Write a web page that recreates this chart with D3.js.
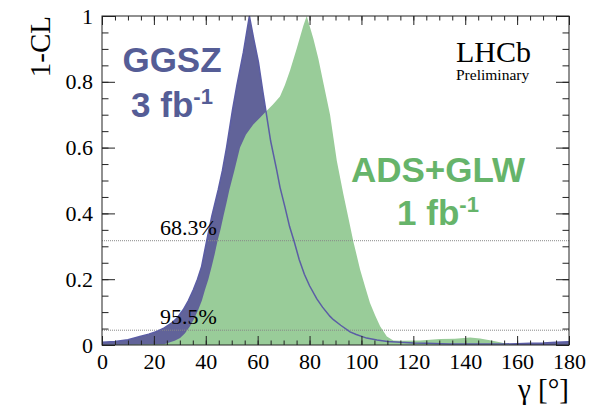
<!DOCTYPE html>
<html>
  <head>
    <script src="https://d3js.org/d3.v7.min.js"></script>
    <style>
      body {margin: 0; background: #fff;}
      .tick text {font-family: "Liberation Serif", serif; font-size: 22px; fill: #000;}
      .tick line {stroke: #222;}
    </style>
  </head>
  <body>
    <svg width="596" height="409"></svg>
  </body>
  <script>
    // GGSZ 3 fb-1 scan
    var gammaGGSZ = [0, 5, 10, 14.6, 18, 21.1, 24, 26.9, 29, 31.3, 33.3, 35.2, 36.8, 38.4, 40.3, 42.3, 44.8, 46.4, 48, 50.3, 52, 54.5, 56.8,
                     58.5, 60.3, 62, 63.2, 65, 67.3, 68.6, 70.5, 72.3, 74.1, 76, 78, 80, 82.8, 85, 87.9, 89.2, 92, 95.6, 98, 102, 106, 110,
                     115, 120, 125, 134, 145, 155, 160, 165, 170, 175, 180];
    var clGGSZ = [0.008, 0.011, 0.016, 0.026, 0.033, 0.041, 0.052, 0.067, 0.083, 0.107, 0.135, 0.168, 0.2, 0.239, 0.315, 0.391, 0.472, 0.53, 0.6, 0.715, 0.79, 0.89, 1.0,
                  0.93, 0.86, 0.77, 0.71, 0.62, 0.533, 0.48, 0.42, 0.36, 0.314, 0.26, 0.215, 0.18, 0.14, 0.115, 0.087, 0.077, 0.06, 0.04, 0.032, 0.021, 0.015, 0.011,
                  0.008, 0.006, 0.005, 0.003, 0.003, 0.003, 0.004, 0.005, 0.006, 0.008, 0.01];

    // ADS+GLW 1 fb-1 scan
    var gammaADS = [0, 24, 26.2, 28, 30.1, 32, 33.9, 35.5, 37.1, 38.5, 39.7, 41, 42.3, 43.4, 44.5, 45.7, 46.8, 48, 49.1, 51, 53.2, 55.5, 58.3, 60.8,
                    63.2, 65.8, 68.6, 70.5, 72.5, 75, 77.6, 78.9, 80.2, 81.5, 83.4, 85.5, 87.9, 89.2, 90.5, 93, 95, 96.9, 99.5, 101.5, 103.3, 105.3,
                    107.2, 109.8, 112.3, 115, 122.6, 130.3, 136, 141.9, 145.7, 150, 153.4, 156, 158.4, 160, 180];
    var clADS = [0, 0.002, 0.008, 0.013, 0.021, 0.036, 0.057, 0.08, 0.107, 0.135, 0.168, 0.2, 0.239, 0.275, 0.315, 0.352, 0.391, 0.432, 0.472, 0.53, 0.6, 0.64, 0.67, 0.69,
                 0.71, 0.73, 0.755, 0.79, 0.835, 0.9, 0.97, 1.0, 0.965, 0.93, 0.87, 0.79, 0.7, 0.63, 0.56, 0.46, 0.385, 0.314, 0.229, 0.175, 0.128, 0.09,
                 0.057, 0.026, 0.014, 0.013, 0.014, 0.018, 0.019, 0.023, 0.02, 0.014, 0.008, 0.004, 0.001, 0, 0];

    var xMajor = [0, 20, 40, 60, 80, 100, 120, 140, 160, 180];
    var yMajor = [0, 0.2, 0.4, 0.6, 0.8, 1];
    var clLevels = [0.317, 0.045];
    var clLabels = ["68.3%", "95.5%"];

    var svg = d3.select("svg");
    var pL = 102, pT = 16, pR = 569, pB = 345;

    var x = d3.scaleLinear().domain([0, 180]).range([pL, pR]);
    var y = d3.scaleLinear().domain([0, 1]).range([pB, pT]);

    var ggsz = gammaGGSZ.map(function(g, i) { return [g, clGGSZ[i]]; });
    var ads = gammaADS.map(function(g, i) { return [g, clADS[i]]; });

    var area = d3.area()
      .x(function(d) { return x(d[0]); })
      .y0(y(0))
      .y1(function(d) { return y(d[1]); });
    var line = d3.line()
      .x(function(d) { return x(d[0]); })
      .y(function(d) { return y(d[1]); });

    svg.append("path").datum(ggsz).attr("d", area).attr("fill", "#616399");
    svg.append("path").datum(ads).attr("d", area).attr("fill", "#99cc99");

    // CL reference lines
    svg.selectAll(".cl").data(clLevels).enter().append("line")
      .attr("x1", pL).attr("x2", pR)
      .attr("y1", function(d) { return y(d); }).attr("y2", function(d) { return y(d); })
      .attr("stroke", "#888").attr("stroke-width", 1).attr("stroke-dasharray", "1,1");

    svg.append("path").datum(ggsz).attr("d", line)
      .attr("fill", "none").attr("stroke", "#5b5da5").attr("stroke-width", 1.5);

    svg.selectAll(".cllab").data(clLabels).enter().append("text")
      .attr("x", 160)
      .attr("y", function(d, i) { return y(clLevels[i]) - 6; })
      .attr("font-family", "Liberation Serif").attr("font-size", 22)
      .text(function(d) { return d; });

    // axes, major and minor ticks on all four sides
    function ticks(axis, pos, vals, size, fmt) {
      var g = svg.append("g").attr("transform", pos)
        .call(axis.tickValues(vals).tickSize(size).tickSizeOuter(0)
          .tickFormat(fmt || ""));
      g.select(".domain").remove();
      return g;
    }
    var plain = function(d) { return String(+d.toFixed(2)); };
    var xMinor = d3.range(0, 181, 5), yMinor = d3.range(0, 1.0001, 0.05);
    ticks(d3.axisBottom(x).tickPadding(8), "translate(0," + pB + ")", xMajor, -9, plain);
    ticks(d3.axisBottom(x), "translate(0," + pB + ")", xMinor, -4.5);
    ticks(d3.axisTop(x), "translate(0," + pT + ")", xMajor, -9);
    ticks(d3.axisTop(x), "translate(0," + pT + ")", xMinor, -4.5);
    ticks(d3.axisLeft(y).tickPadding(9), "translate(" + pL + ",0)", yMajor, -13, plain);
    ticks(d3.axisLeft(y), "translate(" + pL + ",0)", yMinor, -6.5);
    ticks(d3.axisRight(y), "translate(" + pR + ",0)", yMajor, -13);
    ticks(d3.axisRight(y), "translate(" + pR + ",0)", yMinor, -6.5);

    svg.append("rect")
      .attr("x", pL).attr("y", pT).attr("width", pR - pL).attr("height", pB - pT)
      .attr("fill", "none").attr("stroke", "#222").attr("stroke-width", 1);

    // axis titles
    svg.append("text")
      .attr("transform", "translate(50," + pT + ") rotate(-90)")
      .attr("text-anchor", "end")
      .attr("font-family", "Liberation Serif").attr("font-size", 29)
      .text("1-CL");
    svg.append("text")
      .attr("x", pR).attr("y", 399)
      .attr("text-anchor", "end")
      .attr("font-family", "Liberation Serif").attr("font-size", 29)
      .text("γ [°]");

    // LHCb tag
    svg.append("text").attr("x", 456).attr("y", 62)
      .attr("font-family", "Liberation Serif").attr("font-size", 30)
      .text("LHCb");
    svg.append("text").attr("x", 456).attr("y", 80)
      .attr("font-family", "Liberation Serif").attr("font-size", 15.5)
      .text("Preliminary");

    // dataset labels
    function label(name, lumi, cx, y1, y2, color) {
      svg.append("text").attr("x", cx).attr("y", y1)
        .attr("text-anchor", "middle")
        .attr("font-family", "Liberation Sans").attr("font-weight", "bold").attr("font-size", 35)
        .attr("fill", color).text(name);
      var t = svg.append("text").attr("x", cx).attr("y", y2)
        .attr("text-anchor", "middle")
        .attr("font-family", "Liberation Sans").attr("font-weight", "bold").attr("font-size", 35)
        .attr("fill", color);
      t.append("tspan").text(lumi + " fb");
      t.append("tspan").attr("dy", -13).attr("font-size", 22).text("-1");
    }
    label("GGSZ", "3", 172, 72, 117, "#555d96");
    label("ADS+GLW", "1", 438, 182, 225, "#66b46a");
  </script>
</html>
